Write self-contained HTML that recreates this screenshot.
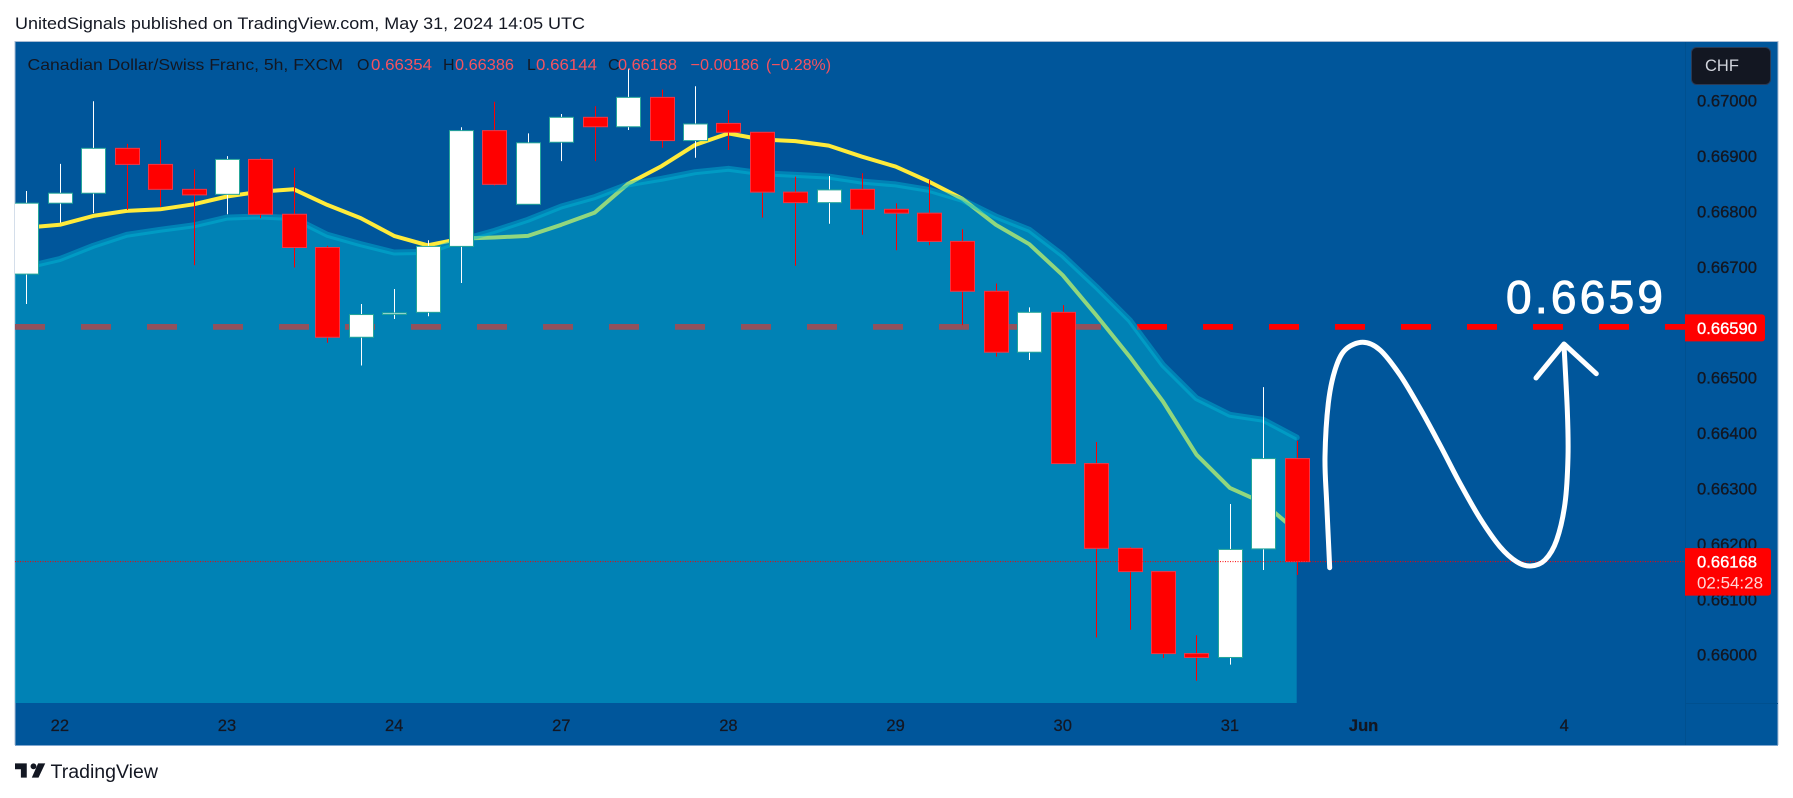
<!DOCTYPE html>
<html lang="en">
<head>
<meta charset="utf-8">
<title>CADCHF chart</title>
<style>
html,body{margin:0;padding:0;background:#fff;width:1793px;height:798px;overflow:hidden}
svg{display:block}
text{font-family:"Liberation Sans",sans-serif}
</style>
</head>
<body>
<svg id="chart" xmlns="http://www.w3.org/2000/svg" width="1793" height="798" viewBox="0 0 1793 798">
  <defs>
    <clipPath id="plotClip"><rect x="15" y="41" width="1670" height="662"></rect></clipPath>
  </defs>
  <text x="15" y="29" font-size="17" fill="#131722" textLength="570" lengthAdjust="spacingAndGlyphs">UnitedSignals published on TradingView.com, May 31, 2024 14:05 UTC</text>

  <rect x="15" y="41" width="1763" height="704" fill="#00569b"></rect>
  <path d="M15 745V41.5H1778V745" fill="none" stroke="#a9bcd4" stroke-width="1"></path>
  <path d="M15 745.5H1778" fill="none" stroke="#7fa6cf" stroke-width="1"></path>

  <g id="plot" clip-path="url(#plotClip)"></g>
  <g id="overlay"></g>

  <path d="M1685.5 42V745" stroke="#00508f" stroke-width="1" fill="none"></path>
  <path d="M1685 703.5H1778" stroke="#00508f" stroke-width="1" fill="none"></path>

  <g id="priceAxis"></g>
  <g id="timeAxis"></g>

  <g>
    <text x="27.5" y="70" font-size="16" fill="#131722" textLength="315.5" lengthAdjust="spacingAndGlyphs">Canadian Dollar/Swiss Franc, 5h, FXCM</text>
    <text x="357" y="70" font-size="16" fill="#131722">O</text>
    <text x="371" y="70" font-size="16" fill="#f7525f" textLength="61" lengthAdjust="spacingAndGlyphs">0.66354</text>
    <text x="443" y="70" font-size="16" fill="#131722">H</text>
    <text x="455" y="70" font-size="16" fill="#f7525f" textLength="59" lengthAdjust="spacingAndGlyphs">0.66386</text>
    <text x="527" y="70" font-size="16" fill="#131722">L</text>
    <text x="536" y="70" font-size="16" fill="#f7525f" textLength="61" lengthAdjust="spacingAndGlyphs">0.66144</text>
    <text x="608" y="70" font-size="16" fill="#131722">C</text>
    <text x="618" y="70" font-size="16" fill="#f7525f" textLength="59" lengthAdjust="spacingAndGlyphs">0.66168</text>
    <text x="690.5" y="70" font-size="16" fill="#f7525f" textLength="68.5" lengthAdjust="spacingAndGlyphs">−0.00186</text>
    <text x="766" y="70" font-size="16" fill="#f7525f" textLength="65" lengthAdjust="spacingAndGlyphs">(−0.28%)</text>
  </g>

  <g>
    <rect x="1691.5" y="47.5" width="79" height="37" rx="5" fill="#131722" stroke="#2a3a55" stroke-width="1"></rect>
    <text x="1705" y="71" font-size="16.5" fill="#d1d4dc">CHF</text>
  </g>

  <g>
    <path transform="translate(15 762.5) scale(0.84)" d="M14 18H7V8H0V1h14v17zM28 18h-8l7.5-17H36L28 18zM22 8a3.5 3.5 0 100-7 3.5 3.5 0 000 7z" fill="#131722"></path>
    <text x="50.5" y="778" font-size="19" fill="#131722" textLength="107.5" lengthAdjust="spacingAndGlyphs">TradingView</text>
  </g>
</svg>

<script>
/* Candle data */
const candleOpen = [0.66687,0.66815,0.66833,0.66914,0.66885,0.66840,0.66831,0.66894,0.66795,0.66735,0.66573,0.66615,0.66618,0.66737,0.66946,0.66813,0.66925,0.66970,0.66953,0.67006,0.66928,0.66959,0.66943,0.66835,0.66816,0.66840,0.66804,0.66797,0.66746,0.66656,0.66546,0.66618,0.66345,0.66192,0.66150,0.66002,0.65995,0.66191,0.66354];
const candleHigh = [0.66837,0.66886,0.66999,0.66922,0.66929,0.66876,0.66900,0.66897,0.66879,0.66738,0.66633,0.66660,0.66748,0.66952,0.66998,0.66941,0.66976,0.66990,0.67058,0.67020,0.67026,0.66983,0.66943,0.66863,0.66864,0.66869,0.66815,0.66857,0.66768,0.66670,0.66627,0.66631,0.66384,0.66194,0.66150,0.66035,0.66272,0.66483,0.66386];
const candleLow = [0.66633,0.66780,0.66797,0.66803,0.66809,0.66703,0.66795,0.66788,0.66699,0.66563,0.66522,0.66606,0.66611,0.66671,0.66847,0.66813,0.66891,0.66891,0.66947,0.66915,0.66897,0.66911,0.66789,0.66702,0.66778,0.66758,0.66730,0.66739,0.66595,0.66538,0.66532,0.66345,0.66031,0.66045,0.65994,0.65953,0.65982,0.66153,0.66144];
const candleClose = [0.66815,0.66833,0.66914,0.66885,0.66840,0.66830,0.66894,0.66795,0.66735,0.66573,0.66614,0.66617,0.66737,0.66946,0.66849,0.66924,0.66970,0.66953,0.67006,0.66928,0.66958,0.66943,0.66835,0.66816,0.66839,0.66804,0.66797,0.66746,0.66656,0.66546,0.66618,0.66345,0.66192,0.66150,0.66002,0.65995,0.66190,0.66354,0.66168];
const fastAverage = [0.66771,0.66776,0.66792,0.66801,0.66804,0.66813,0.66827,0.66836,0.66840,0.66812,0.66788,0.66756,0.66739,0.66751,0.66753,0.66756,0.66776,0.66798,0.66850,0.66882,0.66920,0.66941,0.66930,0.66927,0.66919,0.66899,0.66881,0.66854,0.66823,0.66776,0.66741,0.66685,0.66613,0.66538,0.66457,0.66361,0.66301,0.66274,0.66223];
const slowAverage = [0.66700,0.66714,0.66738,0.66758,0.66767,0.66775,0.66789,0.66791,0.66788,0.66758,0.66741,0.66726,0.66727,0.66748,0.66765,0.66785,0.66809,0.66826,0.66849,0.66859,0.66871,0.66877,0.66869,0.66866,0.66863,0.66854,0.66849,0.66839,0.66821,0.66791,0.66767,0.66721,0.66664,0.66604,0.66523,0.66463,0.66433,0.66424,0.66392];
const priceTicks = [0.67,0.669,0.668,0.667,0.665,0.664,0.663,0.662,0.661,0.66];
const priceTickLabels = ["0.67000","0.66900","0.66800","0.66700","0.66500","0.66400","0.66300","0.66200","0.66100","0.66000"];
const timeTickBars = [1,6,11,16,21,26,31,36,40,46];
const timeTickLabels = ["22","23","24","27","28","29","30","31","Jun","4"];
const levelPrice = 0.6659;
const lastPrice = 0.66168;

/* Axis functions */
function yOf(p){ return 100.7 + (0.67 - p) * 55400; }
function xOf(i){ return 26.4 + i * 33.43; }

const NS = 'http://www.w3.org/2000/svg';
function mk(parent, tag, attrs, txt){
  const el = document.createElementNS(NS, tag);
  for (const k in attrs) el.setAttribute(k, attrs[k]);
  if (txt !== undefined) el.textContent = txt;
  parent.appendChild(el);
  return el;
}
const plot = document.getElementById('plot');
const overlay = document.getElementById('overlay');
const priceAxis = document.getElementById('priceAxis');
const timeAxis = document.getElementById('timeAxis');
const PLOT_LEFT = 15, PLOT_BOTTOM = 703, PLOT_RIGHT = 1685;

/* Dashed level line (sits under the area) */
const levelLine = mk(plot, 'line', {x1:PLOT_LEFT, x2:PLOT_RIGHT, y1:yOf(levelPrice)-1, y2:yOf(levelPrice)-1, stroke:'#ff0000', 'stroke-width':5.7, 'stroke-dasharray':'30 36'});



/* Fast average line (sits under the area) */
const fastPts = fastAverage.map((v,i)=>xOf(i).toFixed(1)+','+yOf(v).toFixed(1)).join(' ');
const fastLine = mk(plot, 'polyline', {points:fastPts, fill:'none', stroke:'#ffeb3b', 'stroke-width':4, 'stroke-linejoin':'round'});



/* Slow average area */
let areaD = 'M' + PLOT_LEFT + ' ' + PLOT_BOTTOM + 'L' + PLOT_LEFT + ' ' + yOf(slowAverage[0]).toFixed(1);
slowAverage.forEach((v,i)=>{ areaD += 'L' + xOf(i).toFixed(1) + ' ' + yOf(v).toFixed(1); });
areaD += 'L' + xOf(slowAverage.length-1).toFixed(1) + ' ' + PLOT_BOTTOM + 'Z';
const area = mk(plot, 'path', {d:areaD, fill:'#00bcd8', 'fill-opacity':0.43});


const slowPts = slowAverage.map((v,i)=>xOf(i).toFixed(1)+','+yOf(v).toFixed(1)).join(' ');
const slowLine = mk(plot, 'polyline', {points:slowPts, fill:'none', stroke:'#00bcd8', 'stroke-width':6, 'stroke-opacity':0.43, 'stroke-linejoin':'round', 'stroke-linecap':'round'});



/* Candles */
const BODY_W = 24;
candleOpen.forEach((o,i)=>{
  const c = candleClose[i], h = candleHigh[i], l = candleLow[i];
  const up = c >= o;
  const cx = Math.round(xOf(i)) + 0.5;
  const g = mk(plot, 'g', {});
  
  
  const wick = mk(g, 'line', {x1:cx, x2:cx, y1:yOf(h), y2:yOf(l), stroke: up ? '#ffffff' : '#ff0000', 'stroke-width':1});
  
  
  const top = yOf(Math.max(o,c)), bot = yOf(Math.min(o,c));
  const body = mk(g, 'rect', {x:cx-BODY_W/2, y:top, width:BODY_W, height:Math.max(bot-top,1.5), fill: up ? '#ffffff' : '#ff0000', stroke: up ? '#26a69a' : '#f23645', 'stroke-width':1});
  
  
});

/* Last price dotted line */
const lastLine = mk(overlay, 'line', {x1:PLOT_LEFT, x2:PLOT_RIGHT, y1:yOf(lastPrice), y2:yOf(lastPrice), stroke:'#ff0000', 'stroke-width':1, 'stroke-dasharray':'1 1.5'});



/* Hand-drawn annotation */
function smooth(pts){
  let d = 'M' + pts[0][0] + ' ' + pts[0][1];
  for (let i = 0; i < pts.length-1; i++){
    const p0 = pts[Math.max(i-1,0)], p1 = pts[i], p2 = pts[i+1], p3 = pts[Math.min(i+2,pts.length-1)];
    const c1x = p1[0] + (p2[0]-p0[0])/6, c1y = p1[1] + (p2[1]-p0[1])/6;
    const c2x = p2[0] - (p3[0]-p1[0])/6, c2y = p2[1] - (p3[1]-p1[1])/6;
    d += 'C' + c1x.toFixed(1) + ' ' + c1y.toFixed(1) + ' ' + c2x.toFixed(1) + ' ' + c2y.toFixed(1) + ' ' + p2[0] + ' ' + p2[1];
  }
  return d;
}
const scribble = [[1329.7,567.7],[1326.7,503],[1325,456.7],[1328.3,403.3],[1335,370],[1345,350],[1362.7,342.3],[1380,350],[1400,375],[1420,408.3],[1440,445],[1460,483.3],[1480,518.3],[1500,546.7],[1516.7,561.7],[1530.7,566],[1545,560],[1556.7,540],[1565,503.3],[1568,456.7],[1567.3,410],[1564,345]];
const curve = mk(overlay, 'path', {d:smooth(scribble), fill:'none', stroke:'#ffffff', 'stroke-width':5, 'stroke-linecap':'round', 'stroke-linejoin':'round'});


const arrow = mk(overlay, 'polyline', {points:'1536,378 1564,344 1596.3,373.7', fill:'none', stroke:'#ffffff', 'stroke-width':5, 'stroke-linecap':'round', 'stroke-linejoin':'round'});


const note = mk(overlay, 'text', {x:1506, y:313, 'font-size':46, fill:'#ffffff', stroke:'#ffffff', 'stroke-width':1, textLength:157, lengthAdjust:'spacing'}, '0.6659');



/* Price axis */
priceTicks.forEach((p,i)=>{
  const t = mk(priceAxis, 'text', {x:1697, y:yOf(p)+6, 'font-size':16.5, fill:'#131722', stroke:'#131722', 'stroke-width':0.35, textLength:60, lengthAdjust:'spacingAndGlyphs'}, priceTickLabels[i]);
  
  
});
const levelTag = mk(priceAxis, 'path', {d:'M1685 '+(yOf(levelPrice)-13.5)+'H1762a3 3 0 0 1 3 3V'+(yOf(levelPrice)+10.5)+'a3 3 0 0 1 -3 3H1685Z', fill:'#ff0000'});


const levelText = mk(priceAxis, 'text', {x:1697, y:yOf(levelPrice)+6, 'font-size':16.5, fill:'#ffffff', stroke:'#ffffff', 'stroke-width':0.35, textLength:60, lengthAdjust:'spacingAndGlyphs'}, levelPrice.toFixed(5));


const lastTag = mk(priceAxis, 'path', {d:'M1685 '+(yOf(lastPrice)-13.5)+'H1768a3 3 0 0 1 3 3V'+(yOf(lastPrice)+31)+'a3 3 0 0 1 -3 3H1685Z', fill:'#ff0000'});


const lastText = mk(priceAxis, 'text', {x:1697, y:yOf(lastPrice)+6, 'font-size':16.5, fill:'#ffffff', stroke:'#ffffff', 'stroke-width':0.35, textLength:60, lengthAdjust:'spacingAndGlyphs'}, lastPrice.toFixed(5));


const countdown = mk(priceAxis, 'text', {x:1697, y:yOf(lastPrice)+27, 'font-size':16.5, fill:'#ffd6d6', textLength:66, lengthAdjust:'spacingAndGlyphs'}, '02:54:28');



/* Time axis */
timeTickBars.forEach((b,i)=>{
  const t = mk(timeAxis, 'text', {x:xOf(b), y:731, 'font-size':16.5, fill:'#131722', stroke:'#131722', 'stroke-width':0.25, 'text-anchor':'middle', 'font-weight': timeTickLabels[i]==='Jun' ? 'bold' : 'normal'}, timeTickLabels[i]);
  
  
});
</script>
</body>
</html>
